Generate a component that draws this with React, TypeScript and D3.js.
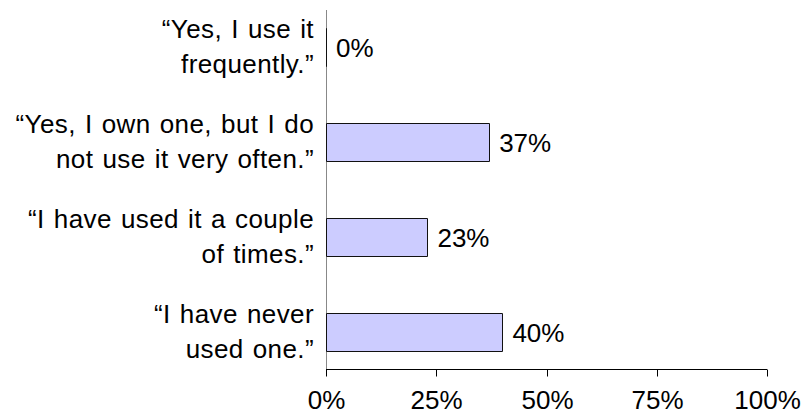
import * as d3 from 'd3';

// survey answers, each split into the two lines shown on the axis
const answers = [
    ['\u201CYes, I use it', 'frequently.\u201D'],
    ['\u201CYes, I own one, but I do', 'not use it very often.\u201D'],
    ['\u201CI have used it a couple', 'of times.\u201D'],
    ['\u201CI have never', 'used one.\u201D'],
];
const shares = [0, 37, 23, 40];
const tickValues = [0, 25, 50, 75, 100];

const width = 806;
const height = 415;
const font = '"Liberation Sans", Arial, sans-serif';
const fontSize = 26;

export default function App() {
    const keys = answers.map((a) => a.join(' '));

    const x = d3.scaleLinear().domain([0, 100]).range([326, 767]);
    const y = d3.scalePoint().domain(keys).range([10, 369]).padding(0.395);
    const barH = 38;
    const axisY = 369.5;
    const axisX = 326.5;

    const barPath = (v: number, cy: number) => {
        const x0 = Math.round(x(0)) + 0.5;
        const x1 = Math.round(x(v)) + 0.5;
        const y0 = Math.round(cy - barH / 2) + 0.5;
        const y1 = y0 + barH;
        return `M${x0},${y0}H${x1}V${y1}H${x0}Z`;
    };

    return (
        <div style={{ position: 'absolute', left: 0, top: 0 }}>
            <svg width={width} height={height} style={{ display: 'block' }}>
                <rect width={width} height={height} fill='#fff' />

                {/* axes */}
                <line x1={axisX} x2={axisX} y1={10} y2={axisY} stroke='#888' strokeWidth={1} />
                <line x1={x(0)} x2={x(100)} y1={axisY} y2={axisY} stroke='#000' strokeWidth={1} />

                {/* bars */}
                {shares.map((v, i) => (
                    <path
                        key={keys[i]}
                        d={barPath(v, y(keys[i]) as number)}
                        fill='#ccccff'
                        stroke='#111'
                        strokeWidth={1}
                    />
                ))}

                {tickValues.map((t) => (
                    <g key={t} transform={`translate(${Math.round(x(t)) + 0.5},0)`}>
                        <line y1={axisY} y2={axisY + 7} stroke='#000' strokeWidth={1} />
                        <text
                            y={409}
                            textAnchor='middle'
                            fontFamily={font}
                            fontSize={fontSize}
                            fill='#000'
                        >
                            {t}%
                        </text>
                    </g>
                ))}

                {/* category labels */}
                {answers.map((lines, i) => {
                    const cy = y(keys[i]) as number;
                    return (
                        <text
                            key={keys[i]}
                            textAnchor='end'
                            fontFamily={font}
                            fontSize={fontSize}
                            letterSpacing={0.4}
                            wordSpacing={1.5}
                            fill='#000'
                        >
                            <tspan x={314} y={cy - 9}>{lines[0]}</tspan>
                            <tspan x={314} y={cy + 26}>{lines[1]}</tspan>
                        </text>
                    );
                })}

                {/* value labels */}
                {shares.map((v, i) => (
                    <text
                        key={keys[i]}
                        x={x(v) + 10}
                        y={(y(keys[i]) as number) + 10}
                        fontFamily={font}
                        fontSize={fontSize}
                        fill='#000'
                    >
                        {v}%
                    </text>
                ))}
            </svg>
        </div>
    );
}
